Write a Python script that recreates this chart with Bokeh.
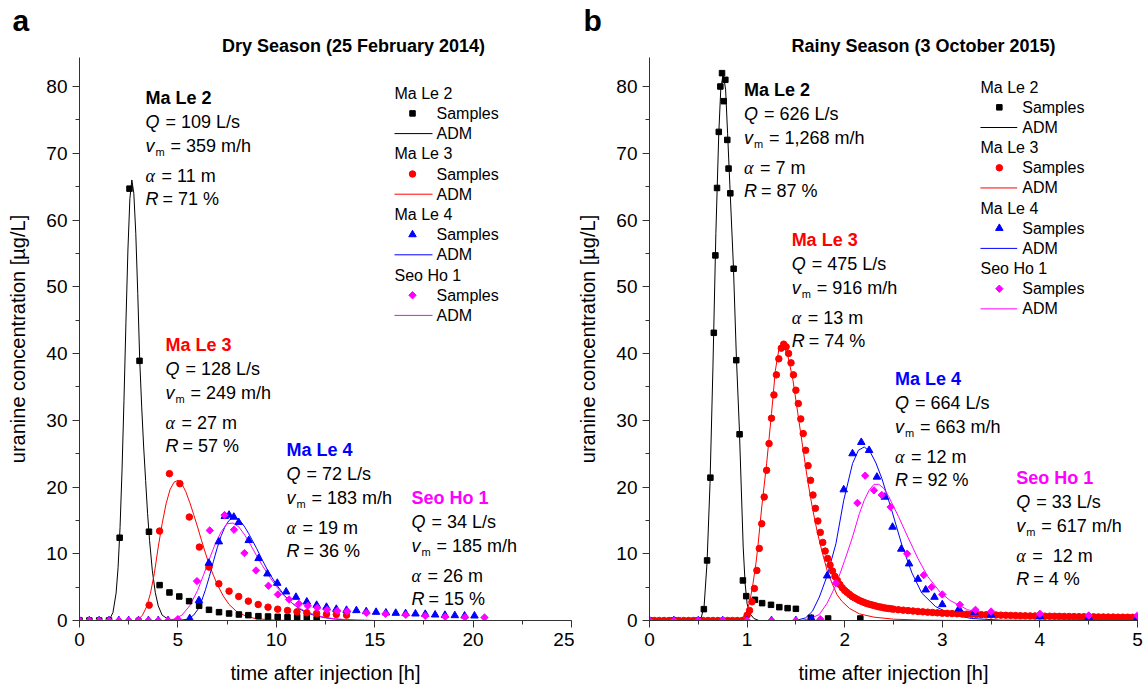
from bokeh.plotting import figure
from bokeh.models import Range1d, SingleIntervalTicker, Label
from bokeh.layouts import row, column
from bokeh.embed import file_html
from bokeh.resources import INLINE

FONT = "Liberation Sans"
BLACK, RED, BLUE, MAG = "#000000", "#ff0000", "#0000ff", "#ff00ff"

# ---------------- Panel a: Dry season (25 February 2014) ----------------
a2_t = [0, 0.5, 1.0, 1.5, 2.04, 2.54, 3.05, 3.53, 4.07, 4.57, 5.07, 5.57, 6.08, 6.58, 7.09, 7.6, 8.1,
        8.58, 9.09, 9.58, 10.07, 10.57, 11.06, 11.55, 12.05]
a2_c = [0, 0, 0, 0, 12.4, 64.7, 38.9, 13.3, 5.3, 4.2, 3.6, 2.9, 2.2, 1.6, 1.25, 1.05, 0.9,
        0.8, 0.65, 0.6, 0.55, 0.5, 0.5, 0.45, 0.2]
a3_t = [3.0, 3.54, 4.07, 4.57, 5.1, 5.58, 6.09, 6.58, 7.08, 7.6, 8.09, 8.58, 9.08, 9.58, 10.07,
        10.57, 11.05, 11.55, 12.05, 12.55, 13.05, 13.57]
a3_c = [0, 2.3, 13.4, 22.0, 20.5, 15.5, 11.0, 8.0, 5.5, 4.4, 3.6, 2.9, 2.4, 2.0, 1.7,
        1.5, 1.3, 1.15, 1.05, 0.95, 0.9, 0.8]
a4_t = [0, 0.5, 1.0, 1.5, 2.0, 2.5, 3.0, 3.5, 4.0, 4.5, 5.0, 5.6, 6.07, 6.57, 7.08, 7.38, 7.6, 7.84,
        8.09, 8.6, 9.1, 9.55, 10.05, 10.5, 11.0, 11.55, 12.05, 12.55, 13.05, 13.57, 14.07, 14.57,
        15.07, 15.57, 16.07, 16.57, 17.07, 17.57, 18.07, 18.57, 19.07, 19.57, 20.07]
a4_c = [0, 0, 0, 0, 0, 0, 0, 0, 0, 0, 0, 0.3, 3.0, 8.6, 11.8, 15.6, 15.8, 15.5,
        14.7, 12.0, 9.3, 7.0, 5.6, 4.3, 3.5, 2.8, 2.3, 2.0, 1.7, 1.55, 1.5, 1.35,
        1.25, 1.15, 1.1, 1.05, 1.0, 0.95, 0.85, 0.8, 0.75, 0.7, 0.7]
a5_t = [0, 0.5, 1.0, 1.5, 2.0, 2.5, 3.0, 3.5, 4.0, 4.5, 5.0, 5.97, 6.62, 7.37, 7.85, 8.38, 8.97,
        9.6, 10.08, 10.65, 11.15, 11.6, 12.08, 12.58, 13.1, 13.6, 14.58, 15.55, 16.58, 17.57,
        18.58, 19.59, 20.58]
a5_c = [0, 0, 0, 0, 0, 0, 0, 0, 0, 0, 0.2, 5.9, 13.5, 15.8, 13.6, 10.1, 7.5,
        5.2, 3.9, 3.15, 2.5, 2.2, 1.9, 1.6, 1.45, 1.4, 1.15, 1.0, 0.85, 0.7,
        0.55, 0.5, 0.45]

a2_adm_t = [0, 1.5, 1.7, 1.86, 1.96, 2.06, 2.16, 2.26, 2.36, 2.46, 2.56, 2.66, 2.76, 2.86, 2.96,
            3.06, 3.16, 3.26, 3.36, 3.46, 3.56, 3.7, 3.85, 4.0, 4.2, 4.5, 5.0, 20.0]
a2_adm_c = [0, 0, 1.2, 4.1, 7.9, 13.9, 22.4, 33.0, 44.7, 55.5, 63.2, 66.0, 64.0, 58.0, 49.0,
            39.0, 32.0, 26.0, 21.0, 16.0, 12.0, 7.5, 4.2, 2.2, 0.8, 0.2, 0, 0]
a3_adm_t = [0, 2.8, 3.0, 3.2, 3.4, 3.6, 3.8, 4.0, 4.2, 4.4, 4.6, 4.8, 5.0, 5.2, 5.4, 5.6, 5.8, 6.0,
            6.2, 6.4, 6.6, 6.8, 7.0, 7.3, 7.6, 8.0, 8.5, 9.0, 10.0, 11.0, 20.0]
a3_adm_c = [0, 0, 0.2, 0.8, 2.0, 4.0, 7.0, 11.0, 14.5, 17.5, 19.6, 20.7, 21.0, 20.5, 19.3, 17.7,
            15.9, 14.0, 12.0, 10.1, 8.3, 6.8, 5.4, 3.7, 2.4, 1.3, 0.6, 0.25, 0.05, 0, 0]
a4_adm_t = [0, 5.0, 5.5, 5.8, 6.0, 6.2, 6.4, 6.6, 6.8, 7.0, 7.2, 7.4, 7.6, 7.8, 8.0, 8.2, 8.4, 8.6,
            8.8, 9.0, 9.3, 9.6, 10.0, 10.4, 10.8, 11.2, 11.6, 12.0, 12.5, 13.0, 14.0, 15.0, 20.0]
a4_adm_c = [0, 0, 0.2, 0.8, 1.6, 2.9, 4.6, 6.6, 8.8, 10.9, 12.7, 14.1, 15.0, 15.4, 15.3, 14.8,
            14.0, 13.0, 11.9, 10.8, 9.0, 7.3, 5.4, 3.8, 2.6, 1.7, 1.1, 0.7, 0.4, 0.2, 0.05, 0, 0]
a5_adm_t = [0, 4.3, 4.8, 5.2, 5.6, 6.0, 6.3, 6.6, 6.9, 7.2, 7.5, 7.8, 8.1, 8.4, 8.7, 9.0, 9.3, 9.6,
            10.0, 10.4, 10.8, 11.2, 11.6, 12.0, 12.5, 13.0, 14.0, 15.0, 20.0]
a5_adm_c = [0, 0, 0.2, 0.8, 2.2, 4.5, 6.8, 9.2, 11.5, 13.3, 14.5, 14.6, 14.0, 12.8, 11.3, 9.7,
            8.2, 6.8, 5.1, 3.7, 2.6, 1.8, 1.2, 0.8, 0.45, 0.25, 0.05, 0, 0]

# ---------------- Panel b: Rainy season (3 October 2015) ----------------
b2_t = [0, 0.25, 0.5, 0.557, 0.59, 0.624, 0.659, 0.675, 0.692, 0.71, 0.726, 0.743, 0.761, 0.777,
        0.797, 0.81, 0.828, 0.862, 0.889, 0.923, 0.957, 0.991, 1.08, 1.154, 1.245, 1.33, 1.415,
        1.5, 1.653, 1.83, 2.16]
b2_c = [0, 0, 0, 1.7, 9.0, 21.4, 43.1, 54.7, 64.8, 73.2, 80.0, 82.0, 77.8, 81.0,
        72.0, 67.7, 64.0, 52.7, 39.0, 27.9, 6.0, 3.65, 3.1, 2.6, 2.35, 2.0, 1.85,
        1.75, 0.4, 0.3, 0.3]
b3_t = [0.0, 0.05, 0.1, 0.15, 0.2, 0.25, 0.3, 0.35, 0.4, 0.45, 0.5, 0.55, 0.6, 0.65, 0.7, 0.75,
        0.8, 0.85, 0.9, 0.95,
        1.0, 1.025, 1.05, 1.075, 1.1, 1.125, 1.15, 1.175, 1.2, 1.225, 1.25, 1.275, 1.3, 1.325,
        1.35, 1.375, 1.4, 1.425, 1.45, 1.475, 1.5, 1.525, 1.55, 1.575, 1.6, 1.625, 1.65, 1.675,
        1.7, 1.725, 1.75, 1.775, 1.8, 1.825, 1.85, 1.875, 1.9, 1.925, 1.95, 1.975, 2.0, 2.025,
        2.05, 2.075, 2.1, 2.125, 2.15, 2.175, 2.2, 2.225, 2.25, 2.275, 2.3, 2.325, 2.35, 2.375,
        2.4, 2.425, 2.45, 2.475, 2.5,
        2.55, 2.6, 2.65, 2.7, 2.75, 2.8, 2.85, 2.9, 2.95, 3.0, 3.05, 3.1, 3.15, 3.2, 3.25, 3.3,
        3.35, 3.4, 3.45, 3.5, 3.55, 3.6, 3.65, 3.7, 3.75, 3.8, 3.85, 3.9, 3.95, 4.0, 4.05, 4.1,
        4.15, 4.2, 4.25, 4.3, 4.35, 4.4, 4.45, 4.5, 4.55, 4.6, 4.65, 4.7, 4.75, 4.8, 4.85, 4.9,
        4.95, 5.0]
b3_c = [0, 0, 0, 0, 0, 0, 0, 0, 0, 0, 0, 0, 0, 0, 0, 0, 0, 0, 0, 0,
        0.8, 1.5, 2.8, 4.8, 7.5, 10.8, 14.5, 18.5, 22.5, 26.5, 30.3, 33.8, 36.8, 39.2,
        40.8, 41.4, 41.0, 40.0, 38.6, 36.8, 34.5, 32.5, 30.2, 28.0, 25.5, 23.2, 21.0, 18.8,
        16.8, 14.9, 13.2, 11.7, 10.4, 9.3, 8.3, 7.4, 6.6, 6.0, 5.4, 4.9, 4.5, 4.2,
        3.9, 3.6, 3.4, 3.2, 3.0, 2.85, 2.7, 2.55, 2.45, 2.35, 2.25, 2.15, 2.05, 2.0,
        1.9, 1.85, 1.8, 1.75, 1.7,
        1.62, 1.55, 1.48, 1.42, 1.36, 1.3, 1.25, 1.2, 1.15, 1.1, 1.07, 1.04, 1.01, 0.98, 0.95, 0.92,
        0.9, 0.88, 0.86, 0.84, 0.82, 0.8, 0.78, 0.76, 0.74, 0.72, 0.7, 0.69, 0.68, 0.66, 0.65, 0.64,
        0.63, 0.62, 0.61, 0.6, 0.59, 0.58, 0.57, 0.56, 0.55, 0.54, 0.53, 0.52, 0.51, 0.5, 0.5, 0.49,
        0.48, 0.47]
b4_t = [0, 0.25, 0.5, 0.75, 1.0, 1.25, 1.5, 1.66, 1.82, 1.99, 2.08, 2.17, 2.25, 2.33, 2.41, 2.49,
        2.58, 2.66, 2.75, 2.83, 2.92, 3.0, 3.17, 3.33, 3.5, 4.0, 4.5, 5.0]
b4_c = [0, 0, 0, 0, 0, 0, 0, 0.3, 6.7, 19.6, 25.0, 26.7, 25.5, 21.5, 18.5, 14.0,
        10.7, 8.5, 6.2, 4.6, 3.5, 2.4, 1.75, 1.25, 0.85, 0.6, 0.5, 0.4]
b5_t = [0, 0.25, 0.5, 0.75, 1.0, 1.25, 1.5, 1.75, 1.91, 2.13, 2.21, 2.3, 2.38, 2.47, 2.64, 2.81,
        2.89, 3.0, 3.18, 3.34, 3.5, 4.0, 4.5, 5.0]
b5_c = [0, 0, 0, 0, 0, 0, 0, 0.2, 5.6, 17.6, 21.7, 19.5, 18.8, 17.0, 10.0, 6.8,
        5.0, 3.9, 2.35, 1.6, 1.35, 1.0, 0.75, 0.75]

b2_adm_t = [0, 0.5, 0.53, 0.56, 0.59, 0.62, 0.65, 0.68, 0.71, 0.73, 0.755, 0.78, 0.8, 0.83, 0.86,
            0.89, 0.92, 0.94, 0.96, 0.98, 1.0, 1.03, 1.07, 1.12, 5.0]
b2_adm_c = [0, 0, 0.4, 2.2, 8.8, 20.5, 38.0, 58.0, 73.0, 79.5, 82.0, 79.5, 73.0, 63.0, 53.0,
            39.5, 29.0, 20.0, 11.0, 5.5, 2.5, 1.0, 0.3, 0, 0]
b3_adm_t = [0, 0.92, 0.99, 1.03, 1.06, 1.09, 1.11, 1.15, 1.2, 1.25, 1.29, 1.33, 1.37, 1.42, 1.47,
            1.52, 1.57, 1.62, 1.67, 1.72, 1.77, 1.82, 1.87, 1.92, 1.97, 2.05, 2.15, 2.3, 2.5, 2.8,
            3.2, 5.0]
b3_adm_c = [0, 0, 1.0, 3.0, 5.5, 8.5, 11.0, 17.0, 23.5, 31.0, 37.5, 41.0, 41.4, 39.5, 36.0,
            31.0, 26.0, 21.0, 16.8, 13.2, 10.2, 7.5, 5.6, 3.9, 2.9, 1.8, 1.0, 0.5, 0.2, 0.05,
            0, 0]
b4_adm_t = [0, 1.5, 1.6, 1.67, 1.74, 1.82, 1.91, 1.99, 2.08, 2.14, 2.2, 2.26, 2.32, 2.38, 2.48,
            2.59, 2.69, 2.79, 2.93, 3.1, 3.3, 3.6, 5.0]
b4_adm_c = [0, 0, 0.4, 1.4, 3.5, 6.7, 11.5, 18.0, 23.5, 25.5, 26.0, 25.3, 23.6, 21.3, 16.6,
            11.1, 7.1, 4.1, 2.1, 0.85, 0.3, 0.05, 0]
b5_adm_t = [0, 1.55, 1.65, 1.74, 1.82, 1.91, 2.0, 2.08, 2.15, 2.2, 2.25, 2.3, 2.35, 2.4, 2.45,
            2.55, 2.65, 2.75, 2.85, 2.98, 3.08, 3.26, 3.43, 3.77, 4.2, 5.0]
b5_adm_c = [0, 0, 0.3, 0.9, 2.6, 5.3, 9.0, 12.5, 16.0, 18.0, 19.5, 20.4, 20.4, 19.8, 18.6,
            15.6, 12.4, 9.3, 6.6, 4.2, 3.0, 1.6, 1.1, 0.6, 0.2, 0.05]

stations = ["Ma Le 2", "Ma Le 3", "Ma Le 4", "Seo Ho 1"]
colors = [BLACK, RED, BLUE, MAG]

params_a = [("109 L/s", "359 m/h", "11 m", "71 %"),
            ("128 L/s", "249 m/h", "27 m", "57 %"),
            ("72 L/s", "183 m/h", "19 m", "36 %"),
            ("34 L/s", "185 m/h", "26 m", "15 %")]
params_b = [("626 L/s", "1,268 m/h", "7 m", "87 %"),
            ("475 L/s", "916 m/h", "13 m", "74 %"),
            ("664 L/s", "663 m/h", "12 m", "92 %"),
            ("33 L/s", "617 m/h", "\u00a012 m", "4 %")]

# ---------------- layout helpers (reference pixel -> data) ----------------
TOP = 57          # page y of the plot frame top
YS = 6.675        # px per concentration unit
def Y(py):
    return (620 - py) / YS
def XA(px):
    return (px - 79) / 19.68
def XB(px):
    return (px - 646) / 98.2

MARKERS = [("square", 5.5, 0.0), ("circle", 6.5, 0.0), ("triangle", 7.5, 0.0), ("square", 5.2, 0.785398)]


def make_fig(xmax, xint, width, left, right):
    p = figure(width=width, height=691 - TOP, x_range=Range1d(0, xmax),
               y_range=Range1d(0, (620 - TOP) / YS), title=None,
               output_backend="svg", toolbar_location=None,
               min_border_left=left, min_border_right=right, min_border_top=0, min_border_bottom=71)
    p.outline_line_color = None
    p.grid.visible = False
    p.background_fill_color = "white"
    p.border_fill_color = "white"
    p.xaxis.ticker = SingleIntervalTicker(interval=xint, num_minor_ticks=2)
    p.yaxis.ticker = SingleIntervalTicker(interval=10, num_minor_ticks=2)
    p.xaxis.axis_label = "time after injection [h]"
    p.yaxis.axis_label = "uranine concentration [µg/L]"
    for ax in (p.xaxis[0], p.yaxis[0]):
        ax.axis_line_color = "#333333"
        ax.major_tick_line_color = "#333333"
        ax.minor_tick_line_color = "#333333"
        ax.major_tick_out = 7
        ax.major_tick_in = 0
        ax.minor_tick_out = 4
        ax.minor_tick_in = 0
        ax.major_label_text_font = FONT
        ax.major_label_text_font_size = "19px"
        ax.major_label_text_color = "black"
        ax.major_label_standoff = 5
        ax.axis_label_text_font = FONT
        ax.axis_label_text_font_size = "20px"
        ax.axis_label_text_font_style = "normal"
        ax.axis_label_text_color = "black"
    p.xaxis[0].axis_label_standoff = 13
    p.yaxis[0].axis_label_standoff = 14
    return p


def title_fig(width):
    t = figure(width=width, height=TOP, x_range=Range1d(0, width), y_range=Range1d(0, TOP),
               title=None, output_backend="svg", toolbar_location=None, x_axis_location=None,
               y_axis_location=None, min_border=0)
    t.outline_line_color = None
    t.grid.visible = False
    t.background_fill_color = "white"
    t.border_fill_color = "white"
    return t


def lab(p, x, y, text, xoff=0, size="18px", style="normal", font=FONT, color="black",
        align="left", baseline="middle"):
    p.add_layout(Label(x=x, y=y, x_offset=xoff, text=text, text_font=font, text_font_size=size,
                       text_font_style=style, text_color=color, text_baseline=baseline,
                       text_align=align))


def block(p, x, py, name, color, prm):
    q, v, a, r = prm
    lab(p, x, Y(py), name, style="bold", color=color)
    lab(p, x, Y(py + 24), "Q", style="italic")
    lab(p, x, Y(py + 24), "= " + q, xoff=20)
    lab(p, x, Y(py + 48), "v", style="italic")
    lab(p, x, Y(py + 54), "m", xoff=10, size="11px")
    lab(p, x, Y(py + 48), "= " + v, xoff=25)
    lab(p, x, Y(py + 78), "α", style="italic", font="Liberation Serif")
    lab(p, x, Y(py + 78), "= " + a, xoff=16)
    lab(p, x, Y(py + 101), "R", style="italic")
    lab(p, x, Y(py + 101), "= " + r, xoff=17)


def legend(p, X, xh, xm, xt, xl1, py0, step):
    for k in range(4):
        yh = Y(py0 + 3 * k * step)
        ys = Y(py0 + (3 * k + 1) * step)
        yl = Y(py0 + (3 * k + 2) * step)
        mk, sz, ang = MARKERS[k]
        lab(p, X(xh), yh, stations[k], size="16px")
        p.scatter([X(xm)], [ys], marker=mk, size=sz, angle=ang, color=colors[k])
        lab(p, X(xt), ys, "Samples", size="16px")
        p.line([X(xh), X(xl1)], [yl, yl], color=colors[k], line_width=1)
        lab(p, X(xt), yl, "ADM", size="16px")


def draw(p, samples, adms):
    for (t, c), col in zip(adms, colors):
        p.line(t, c, color=col, line_width=1)
    for k, ((t, c), col) in enumerate(zip(samples, colors)):
        mk, sz, ang = MARKERS[k]
        p.scatter(t, c, marker=mk, size=sz, angle=ang, color=col)


WA = 574
WB = 1143 - WA

# ---------------- panel a ----------------
pa = make_fig(25, 5, WA, 79, WA - 571)
draw(pa, [(a2_t, a2_c), (a3_t, a3_c), (a4_t, a4_c), (a5_t, a5_c)],
     [(a2_adm_t, a2_adm_c), (a3_adm_t, a3_adm_c), (a4_adm_t, a4_adm_c), (a5_adm_t, a5_adm_c)])
for (px, py), name, col, prm in zip([(145, 97), (165, 344), (286, 449), (411, 497)],
                                    stations, colors, params_a):
    block(pa, XA(px), py, name, col, prm)
legend(pa, XA, 394, 412, 436, 432, 92.7, 20.2)

ta = title_fig(WA)
lab(ta, 12, TOP - 20, "a", size="30px", style="bold")
lab(ta, 353, TOP - 45, "Dry Season (25 February 2014)", size="18px", style="bold", align="center")

# ---------------- panel b ----------------
pb = make_fig(5, 1, WB, 646 - WA, 1143 - 1137)
draw(pb, [(b2_t, b2_c), (b3_t, b3_c), (b4_t, b4_c), (b5_t, b5_c)],
     [(b2_adm_t, b2_adm_c), (b3_adm_t, b3_adm_c), (b4_adm_t, b4_adm_c), (b5_adm_t, b5_adm_c)])
for (px, py), name, col, prm in zip([(741, 89), (789, 239), (893, 378), (1015, 477)],
                                    stations, colors, params_b):
    block(pb, XB(px), py, name, col, prm)
legend(pb, XB, 979, 998, 1021, 1016, 86.7, 20.15)

tb = title_fig(WB)
lab(tb, 583 - WA, TOP - 20, "b", size="30px", style="bold")
lab(tb, 923 - WA, TOP - 45, "Rainy Season (3 October 2015)", size="18px", style="bold", align="center")

layout = column(row(ta, tb), row(pa, pb))
open("out.html", "w").write(file_html(layout, INLINE))
